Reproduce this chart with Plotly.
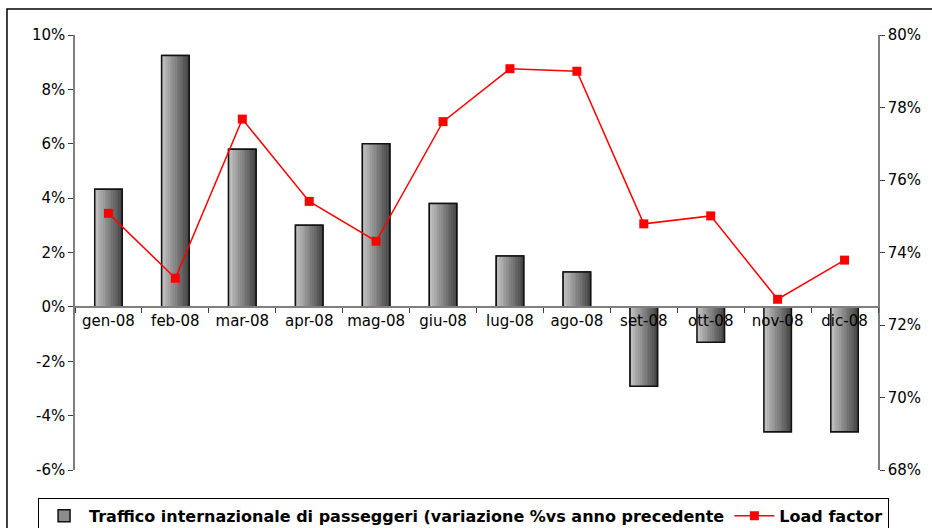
import plotly.graph_objects as go

# Monthly data, 2008
months = ["gen-08", "feb-08", "mar-08", "apr-08", "mag-08", "giu-08",
          "lug-08", "ago-08", "set-08", "ott-08", "nov-08", "dic-08"]
# international passenger traffic, % change vs previous year (left axis)
traffic_pct = [4.33, 9.25, 5.8, 3.0, 6.0, 3.8, 1.87, 1.28, -2.92, -1.3, -4.59, -4.59]
# load factor, % (right axis)
load_factor = [75.08, 73.29, 77.68, 75.41, 74.31, 77.61, 79.07, 79.0, 74.79, 75.01, 72.71, 73.79]

left_ticks = [-6, -4, -2, 0, 2, 4, 6, 8, 10]
right_ticks = [68, 70, 72, 74, 76, 78, 80]
left_labels = [f"{v}%" for v in left_ticks]
right_labels = [f"{v}%" for v in right_ticks]

bar_name = "Traffico internazionale di passeggeri (variazione %vs anno precedente"
line_name = "Load factor"

FONT = "DejaVu Sans, Arial, sans-serif"
BAR_W = 0.41
N_STRIPS = 16
LIGHT = (196, 196, 196)
DARK = (72, 72, 72)

fig = go.Figure()

# base bar (also provides the legend swatch)
fig.add_trace(go.Bar(
    x=months, y=traffic_pct, width=BAR_W, name=bar_name,
    marker=dict(color="#8c8c8c", line=dict(color="#111111", width=1.5)),
    hoverinfo="skip",
))

# shaded fill: thin vertical strips going from light (left) to dark (right)
strip_w = BAR_W / N_STRIPS
for i in range(N_STRIPS):
    t = i / (N_STRIPS - 1)
    r, g, b = (round(LIGHT[k] + (DARK[k] - LIGHT[k]) * t) for k in range(3))
    fig.add_trace(go.Bar(
        x=months, y=traffic_pct, width=strip_w * 1.05,
        offset=-BAR_W / 2 + i * strip_w,
        marker=dict(color=f"rgb({r},{g},{b})", line=dict(width=0)),
        showlegend=False, hoverinfo="skip",
    ))

# outline on top of the shading
fig.add_trace(go.Bar(
    x=months, y=traffic_pct, width=BAR_W,
    marker=dict(color="rgba(0,0,0,0)", line=dict(color="#111111", width=1.5)),
    showlegend=False, hoverinfo="skip",
))

fig.add_trace(go.Scatter(
    x=months, y=load_factor, name=line_name, yaxis="y2",
    mode="lines+markers",
    line=dict(color="#ff0000", width=1.5),
    marker=dict(symbol="square", size=9, color="#ff0000"),
))

fig.update_layout(
    width=932, height=528,
    margin=dict(l=75, r=54, t=35, b=58, autoexpand=False),
    paper_bgcolor="white", plot_bgcolor="white",
    barmode="overlay",
    font=dict(family=FONT, size=15, color="#000000"),
    xaxis=dict(
        type="category", range=[-0.5, 11.5],
        anchor="free", position=0.375,
        showline=True, linecolor="#7f7f7f", linewidth=1.5,
        ticks="outside", tickson="boundaries", ticklen=5, tickcolor="#404040",
        showgrid=False, zeroline=False,
        tickfont=dict(family=FONT, size=15),
    ),
    yaxis=dict(
        range=[-6, 10], tickvals=left_ticks, ticktext=left_labels,
        showline=True, linecolor="#7f7f7f", linewidth=1.5,
        ticks="outside", ticklen=5, tickcolor="#404040",
        showgrid=False, zeroline=False,
        tickfont=dict(family=FONT, size=15),
    ),
    yaxis2=dict(
        range=[68, 80], tickvals=right_ticks, ticktext=right_labels,
        overlaying="y", side="right",
        showline=True, linecolor="#7f7f7f", linewidth=1.5,
        ticks="outside", ticklen=5, tickcolor="#404040",
        showgrid=False, zeroline=False,
        tickfont=dict(family=FONT, size=15),
    ),
    legend=dict(
        orientation="h", x=-0.046, xanchor="left", y=-0.064, yanchor="top",
        bgcolor="white", bordercolor="#000000", borderwidth=1,
        font=dict(family=FONT, size=16, color="#000000", weight="bold"),
        itemwidth=40, traceorder="normal",
    ),
    shapes=[dict(
        type="rect", xref="paper", yref="paper",
        x0=-0.0847, x1=1.2, y0=-0.3, y1=1.0598,
        line=dict(color="#000000", width=1.5), fillcolor="rgba(0,0,0,0)",
        layer="below",
    )],
    showlegend=True,
)

fig.write_html("out.html")
